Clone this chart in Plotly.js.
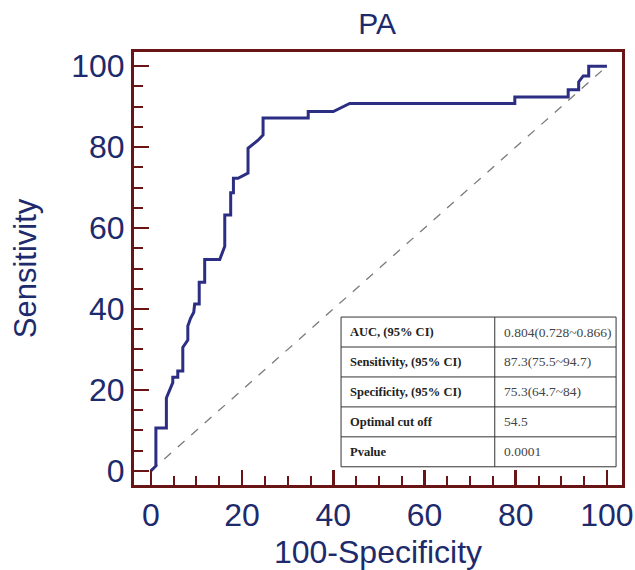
<!DOCTYPE html>
<html>
<head>
<meta charset="utf-8">
<script src="https://cdn.plot.ly/plotly-3.0.1.min.js"></script>
<style>html,body{margin:0;padding:0;background:#fff;}#chart{width:635px;height:570px;}</style>
</head>
<body>
<div id="chart"></div>
<script>
// ROC curve vertices (100-Specificity, Sensitivity)
const rocX = [0, 1.1, 1.1, 3.4, 3.4, 4.1, 4.8, 4.8, 5.9, 5.9, 7.0, 7.0, 7.8, 8.1, 8.1, 8.7, 9.4, 9.6, 10.6, 10.6, 11.8, 11.8, 15.1, 15.9, 16.2, 16.2, 17.5, 17.5, 18.1, 18.1, 19.1, 21.3, 21.3, 23.5, 24.6, 24.6, 34.5, 34.5, 40.0, 43.6, 79.8, 79.8, 91.5, 91.5, 93.8, 93.8, 94.8, 96.0, 96.0, 100];
const rocY = [0, 1.2, 10.6, 10.6, 18.0, 20.0, 21.8, 23.1, 23.1, 24.7, 24.7, 30.5, 31.9, 32.3, 35.8, 37.7, 39.2, 41.2, 41.2, 46.6, 46.6, 52.2, 52.2, 54.6, 55.5, 63.2, 63.2, 68.7, 68.7, 72.3, 72.3, 73.6, 79.7, 81.7, 83.0, 87.2, 87.2, 88.8, 88.8, 90.8, 90.8, 92.4, 92.4, 94.2, 94.2, 96.1, 97.6, 97.6, 100, 100];
const refX = [0, 100];
const refY = [0, 100];
const tickVals = [0, 20, 40, 60, 80, 100];
const tableLabels = ["AUC, (95% CI)", "Sensitivity, (95% CI)", "Specificity, (95% CI)", "Optimal cut off", "Pvalue"];
const tableValues = ["0.804(0.728~0.866)", "87.3(75.5~94.7)", "75.3(64.7~84)", "54.5", "0.0001"];

const navy = "#2b2e83";
const textNavy = "#1d2a6c";
const frame = "#6a1515";

// table geometry (data coords)
const tL = 41.7, tR = 102.0, tMid = 75.4, tTop = 38.0, tBot = 1.0;
const nRows = tableLabels.length;
const rowH = (tTop - tBot) / nRows;
const shapes = [];
shapes.push({type: "rect", xref: "x", yref: "y", x0: tL, x1: tR, y0: tBot, y1: tTop,
  fillcolor: "#ffffff", line: {color: "#333", width: 1}, layer: "above"});
shapes.push({type: "line", xref: "x", yref: "y", x0: tMid, x1: tMid, y0: tBot, y1: tTop,
  line: {color: "#333", width: 1}, layer: "above"});
for (let i = 1; i < nRows; i++) {
  const yy = tTop - i * rowH;
  shapes.push({type: "line", xref: "x", yref: "y", x0: tL, x1: tR, y0: yy, y1: yy,
    line: {color: "#333", width: 1}, layer: "above"});
}
const annotations = [];
tableLabels.forEach((lab, i) => {
  const yc = tTop - (i + 0.5) * rowH;
  annotations.push({xref: "x", yref: "y", x: tL + 1.6, y: yc, xanchor: "left", yanchor: "middle",
    text: "<b>" + lab + "</b>", showarrow: false,
    font: {family: "Liberation Serif, Times New Roman, serif", size: 12.5, color: "#222"}});
  annotations.push({xref: "x", yref: "y", x: tMid + 1.6, y: yc, xanchor: "left", yanchor: "middle",
    text: tableValues[i], showarrow: false,
    font: {family: "Liberation Serif, Times New Roman, serif", size: 13.5, color: "#444"}});
});

const traces = [
  {x: refX, y: refY, type: "scatter", mode: "lines", hoverinfo: "skip",
   line: {color: "#7a7a7a", width: 1.3, dash: "dash"}, showlegend: false},
  {x: rocX, y: rocY, type: "scatter", mode: "lines",
   line: {color: navy, width: 3}, showlegend: false}
];

const axisCommon = {
  showgrid: false, zeroline: false,
  showline: true, linecolor: frame, linewidth: 3, mirror: true,
  ticks: "inside", ticklen: 15, tickwidth: 2.5, tickcolor: frame,
  tickmode: "array", tickvals: tickVals,
  tickfont: {family: "Liberation Sans, Arial, sans-serif", size: 32, color: textNavy},
  minor: {dtick: 5, tick0: 0, ticks: "inside", ticklen: 9, tickwidth: 2, tickcolor: frame, showgrid: false}
};

const layout = {
  width: 635, height: 570,
  margin: {l: 134, r: 13, t: 52, b: 85},
  paper_bgcolor: "#ffffff", plot_bgcolor: "#ffffff",
  title: {text: "PA", x: 0.594, xanchor: "center", y: 0.958, yanchor: "middle",
    font: {family: "Liberation Sans, Arial, sans-serif", size: 30, color: textNavy}},
  xaxis: Object.assign({}, axisCommon, {
    range: [-3.7, 103.3],
    title: {text: "100-Specificity", standoff: 12,
      font: {family: "Liberation Sans, Arial, sans-serif", size: 32, color: textNavy}}
  }),
  yaxis: Object.assign({}, axisCommon, {
    range: [-3.5, 103.5],
    title: {text: "Sensitivity", standoff: 26,
      font: {family: "Liberation Sans, Arial, sans-serif", size: 31, color: textNavy}}
  }),
  shapes: shapes,
  annotations: annotations,
  showlegend: false
};

Plotly.newPlot("chart", traces, layout, {displayModeBar: false, staticPlot: true});
</script>
</body>
</html>
